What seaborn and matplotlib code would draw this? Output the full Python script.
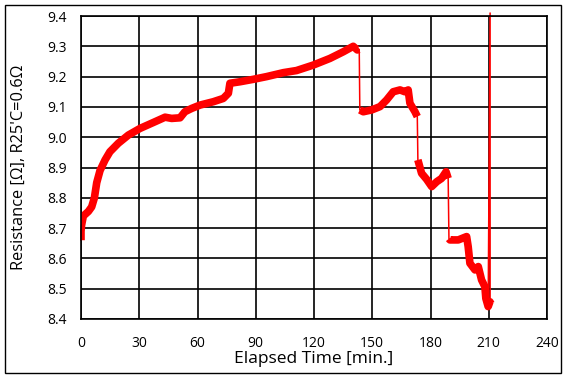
import matplotlib
matplotlib.use("Agg")
import matplotlib.pyplot as plt
import pandas as pd
import seaborn as sns
from matplotlib.patches import Rectangle

sns.set_theme(style="white")
plt.rcParams["font.family"] = ["Open Sans", "DejaVu Sans"]

# Data (time in min, resistance in ohm)
seg1_t = [0, 0, 0.3, 1.2, 3.8, 5.5, 6.9, 8.1, 9.8, 12.4, 14.9, 19.2, 24.4, 30.4,
          38.1, 43.3, 46.7, 51, 53.5, 57, 61.3, 68.1, 73.3, 75.9, 76.7, 81.9,
          88.7, 95.6, 104.2, 111, 119.6, 128.2, 135.1, 140.2, 142.3, 143.3]
seg1_r = [8.66, 8.69, 8.71, 8.74, 8.755, 8.77, 8.80, 8.85, 8.89, 8.925, 8.952,
          8.98, 9.007, 9.029, 9.051, 9.066, 9.062, 9.064, 9.084, 9.095, 9.106,
          9.117, 9.128, 9.145, 9.178, 9.183, 9.191, 9.20, 9.213, 9.22, 9.238,
          9.26, 9.282, 9.30, 9.288, 9.29]

seg2_t = [143.6, 145.4, 149.7, 154, 157.4, 160.8, 164.3, 166.8, 168.5, 169.4,
          172, 173.2]
seg2_r = [9.09, 9.084, 9.09, 9.101, 9.123, 9.15, 9.156, 9.15, 9.156, 9.112,
          9.084, 9.068]

seg3_t = [173.5, 175.4, 178, 180.6, 183.2, 185.7, 188, 189.1]
seg3_r = [8.925, 8.881, 8.861, 8.837, 8.853, 8.864, 8.886, 8.864]

seg4_t = [189.5, 190, 194.3, 198.6, 199.4, 200.3, 202.9, 204.6, 206.3, 208,
          208.5, 209.7, 210.6, 211.2]
seg4_r = [8.665, 8.661, 8.661, 8.672, 8.639, 8.584, 8.562, 8.573, 8.529, 8.507,
          8.468, 8.441, 8.457, 8.45]

spike_t = [210.7, 210.7]
spike_r = [9.41, 8.45]

x_ticks = [0, 30, 60, 90, 120, 150, 180, 210, 240]
y_ticks = [8.4, 8.5, 8.6, 8.7, 8.8, 8.9, 9.0, 9.1, 9.2, 9.3, 9.4]

fig = plt.figure(figsize=(5.67, 3.79), dpi=100)
ax = fig.add_axes([81 / 567, 1 - 319 / 379, 466 / 567, 303 / 379])

# thin connecting line through all readings
all_df = pd.DataFrame({
    "t": seg1_t + seg2_t + seg3_t + seg4_t[:-2] + spike_t + seg4_t[-2:],
    "r": seg1_r + seg2_r + seg3_r + seg4_r[:-2] + spike_r + seg4_r[-2:],
})
sns.lineplot(data=all_df, x="t", y="r", sort=False, estimator=None,
             color="red", linewidth=1.1, ax=ax, clip_on=False)

# dense-marker band for each plateau
for st, sr in [(seg1_t, seg1_r), (seg2_t, seg2_r), (seg3_t, seg3_r), (seg4_t, seg4_r)]:
    d = pd.DataFrame({"t": st, "r": sr})
    sns.lineplot(data=d, x="t", y="r", sort=False, estimator=None,
                 color="red", linewidth=5.5, ax=ax)
for ln in ax.lines[1:]:
    ln.set_solid_capstyle("butt")
    ln.set_solid_joinstyle("round")

ax.set_xlim(0, 240)
ax.set_ylim(8.4, 9.4)
ax.set_xticks(x_ticks)
ax.set_yticks(y_ticks)
ax.set_xticklabels([str(v) for v in x_ticks])
ax.set_yticklabels([f"{v:.1f}" for v in y_ticks])
ax.tick_params(length=0, labelsize=10, colors="black")
ax.tick_params(axis="y", pad=10)
ax.tick_params(axis="x", pad=12)
ax.grid(True, color="black", linewidth=1.2)
for s in ax.spines.values():
    s.set_color("black")
    s.set_linewidth(1.2)

ax.set_xlabel("Elapsed Time [min.]", fontsize=12.5, color="black")
ax.set_ylabel("Resistance [Ω], R25'C=0.6Ω", fontsize=11.8, color="black")
ax.xaxis.set_label_coords(0.5, -40 / 303)
ax.yaxis.set_label_coords(-62 / 466, 0.5)
ax.xaxis.label.set_va("center")
ax.yaxis.label.set_va("center")

fig.patches.append(Rectangle((5 / 567, 6 / 379), 556 / 567, 368 / 379,
                             transform=fig.transFigure, fill=False,
                             edgecolor="black", linewidth=1.0))

fig.savefig("out.png", dpi=100)
